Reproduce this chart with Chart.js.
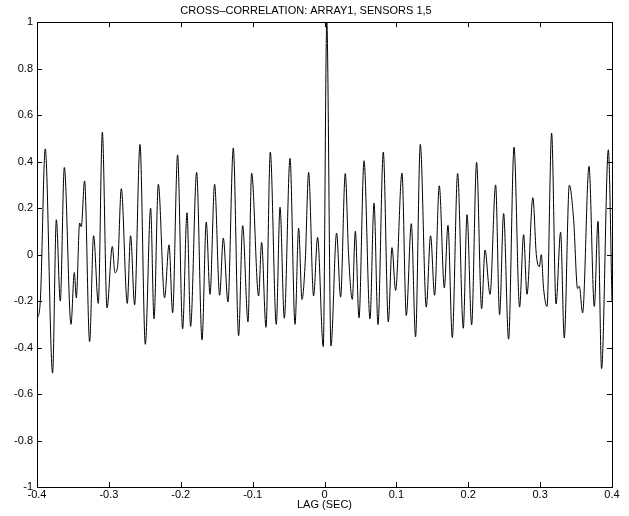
<!DOCTYPE html>
<html>
<head>
<meta charset="utf-8">
<script src="https://cdn.jsdelivr.net/npm/chart.js@4/dist/chart.umd.min.js"></script>
<style>
  html, body { margin: 0; padding: 0; background: #fff; }
  #wrap { width: 629px; height: 516px; }
</style>
</head>
<body>
<div id="wrap"><canvas id="xcorr"></canvas></div>
<script>
/* 0. data (peaks / troughs / kinks) ------------------------------- */
const lagSec = [
  -0.400, -0.3954, -0.3885, -0.3783, -0.3731, -0.3676, -0.3620, -0.3527, -0.3481, -0.3453,
  -0.3407, -0.3384, -0.3338, -0.3268, -0.3213, -0.3147, -0.3091, -0.3026, -0.2952, -0.2915,
  -0.2879, -0.2827, -0.2744, -0.2698, -0.2642, -0.2567, -0.2493, -0.2419, -0.2372, -0.2312,
  -0.2225, -0.2163, -0.2113, -0.2044, -0.1974, -0.1913, -0.1863, -0.1779, -0.1704, -0.1645,
  -0.1593, -0.1529, -0.1459, -0.1408, -0.1343, -0.1269, -0.1195, -0.1139, -0.1064, -0.1014,
  -0.0917, -0.0875, -0.0814, -0.0754, -0.0671, -0.0619, -0.0559, -0.0480, -0.0410, -0.0360,
  -0.0313, -0.0267, -0.0221, -0.0152, -0.0096, -0.0017,  0.0032,  0.0090,  0.0168,  0.0224,
   0.0289,  0.0335,  0.0387,  0.0429,  0.0480,  0.0550,  0.0633,  0.0689,  0.0744,  0.0818,
   0.0888,  0.0939,  0.0989,  0.1078,  0.1138,  0.1208,  0.1267,  0.1333,  0.1416,  0.1476,
   0.1532,  0.1597,  0.1667,  0.1718,  0.1778,  0.1852,  0.1931,  0.1983,  0.2047,  0.2116,
   0.2186,  0.2233,  0.2303,  0.2381,  0.2436,  0.2492,  0.2561,  0.2637,  0.2714,  0.2770,
   0.2817,  0.2899,  0.2947,  0.2989,  0.3016,  0.3048,  0.3096,  0.3160,  0.3221,  0.3285,
   0.3336,  0.3406,  0.3466,  0.3521,  0.3545,  0.3591,  0.3680,  0.3754,  0.3805,  0.3855,
   0.3949,  0.400
];

const xcorr = [
  -0.28, -0.20,  0.455, -0.51,  0.15, -0.20,  0.375, -0.30, -0.077, -0.186,
   0.136, 0.12,  0.317, -0.375,  0.081, -0.21,  0.527, -0.229,  0.035, -0.078,
  -0.052, 0.284, -0.21,  0.081, -0.216,  0.474, -0.386,  0.20, -0.277,  0.303,
  -0.186, 0.042, -0.25,  0.429, -0.32,  0.18, -0.309,  0.354, -0.367,  0.14,
  -0.171, 0.303, -0.175,  0.071, -0.204,  0.459, -0.349,  0.125, -0.29,  0.351,
  -0.178, 0.052, -0.313,  0.441, -0.30,  0.204, -0.274,  0.414, -0.30,  0.114,
  -0.193, -0.023, 0.354, -0.178,  0.074, -0.396,  1.0, -0.393,  0.093, -0.183,
   0.349, 0.0, -0.193,  0.10, -0.272,  0.404, -0.277,  0.222, -0.301,  0.441,
  -0.29,  0.03, -0.154,  0.351, -0.262,  0.133, -0.354,  0.474, -0.226,  0.081,
  -0.175, 0.296, -0.143,  0.126, -0.357,  0.349, -0.317,  0.172, -0.303,  0.397,
  -0.233, 0.02, -0.171,  0.30, -0.259,  0.177, -0.364,  0.462, -0.226,  0.086,
  -0.171, 0.245,  0.0, -0.052,  0.0, -0.146, -0.223,  0.523, -0.212,  0.096,
  -0.359, 0.299,  0.151, -0.146, -0.136, -0.251,  0.38, -0.223,  0.143, -0.491,
   0.451, -0.20
];

const xTicks = [-0.4, -0.3, -0.2, -0.1, 0, 0.1, 0.2, 0.3, 0.4];
const yTicks = [-1, -0.8, -0.6, -0.4, -0.2, 0, 0.2, 0.4, 0.6, 0.8, 1];

const FONT = { family: '"Liberation Sans", Arial, Helvetica, sans-serif', size: 11 };

/* 1. box + inward tick marks (matlab style) ---------------------- */
const matlabFrame = {
  id: 'matlabFrame',
  afterDatasetsDraw(chart) {
    const { ctx, chartArea: a, scales: { x, y } } = chart;
    const len = 5;
    ctx.save();
    ctx.strokeStyle = '#000';
    ctx.lineWidth = 1;
    ctx.beginPath();
    xTicks.forEach(v => {
      const px = Math.round(x.getPixelForValue(v)) + 0.5;
      ctx.moveTo(px, a.bottom); ctx.lineTo(px, a.bottom - len);
      ctx.moveTo(px, a.top);    ctx.lineTo(px, a.top + len);
    });
    yTicks.forEach(v => {
      const py = Math.round(y.getPixelForValue(v)) + 0.5;
      ctx.moveTo(a.left, py);  ctx.lineTo(a.left + len, py);
      ctx.moveTo(a.right, py); ctx.lineTo(a.right - len, py);
    });
    ctx.stroke();
    ctx.strokeRect(Math.round(a.left) + 0.5, Math.round(a.top) + 0.5,
                   Math.round(a.right - a.left), Math.round(a.bottom - a.top));
    ctx.restore();
  }
};

/* 2. chart ------------------------------------------------------- */
new Chart(document.getElementById('xcorr'), {
  type : 'line',
  data : {
    datasets : [{
      data        : lagSec.map((t, i) => ({ x: t, y: xcorr[i] })),
      borderColor : '#000',
      borderWidth : 1,
      pointRadius : 0,
      cubicInterpolationMode : 'monotone',
      fill        : false
    }]
  },
  options : {
    responsive : true,
    maintainAspectRatio : false,
    animation  : false,
    layout     : { padding: { left: 0, right: 17, top: 0, bottom: 0 } },
    plugins    : {
      legend  : { display: false },
      tooltip : { enabled: false },
      title   : {
        display : true,
        text    : 'CROSS\u2013CORRELATION: ARRAY1, SENSORS 1,5',
        color   : '#000',
        font    : { ...FONT, weight: 'normal' },
        padding : { top: 4, bottom: 5 }
      }
    },
    scales : {
      x : {
        type : 'linear', min: -0.4, max: 0.4,
        border : { display: false },
        grid   : { display: false, drawTicks: false },
        ticks  : {
          stepSize: 0.1, padding: 1, color: '#000', font: FONT, maxRotation: 0,
          callback: v => String(+v.toFixed(1))
        },
        title  : { display: true, text: 'LAG (SEC)', color: '#000', font: FONT,
                   padding: { top: 0, bottom: 4 } },
        afterFit : s => { s.height = 29; }
      },
      y : {
        min: -1, max: 1,
        border : { display: false },
        grid   : { display: false, drawTicks: false },
        ticks  : {
          stepSize: 0.2, padding: 4, color: '#000', font: FONT,
          callback: v => String(+v.toFixed(1))
        },
        afterFit : s => { s.width = 37; }
      }
    }
  },
  plugins : [matlabFrame]
});
</script>
</body>
</html>
